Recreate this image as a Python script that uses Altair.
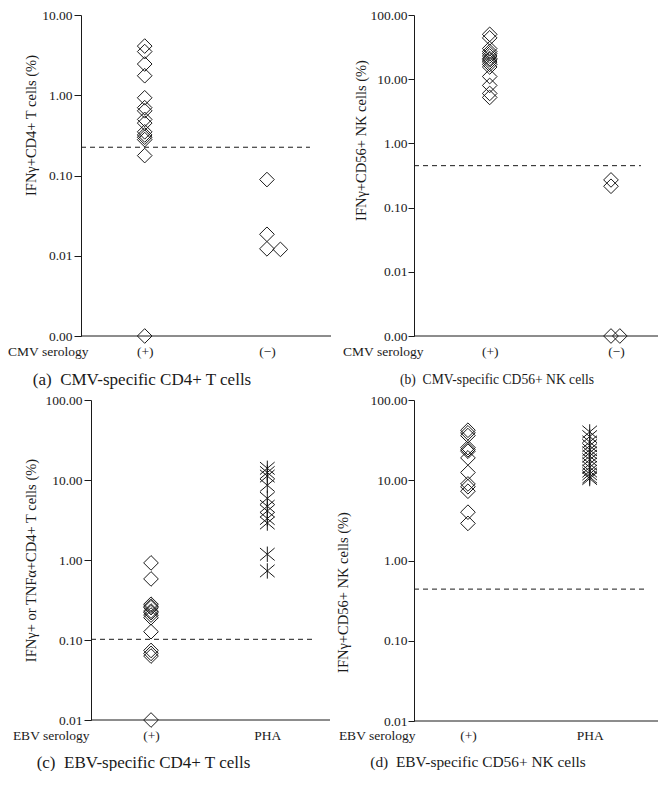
import altair as alt
import pandas as pd

FONT = "Liberation Serif"
INK = "#1a1a1a"

# ---------------- data ----------------
# (a) CMV-specific CD4+ T cells, IFNg+CD4+ T cells (%)
a_pos = [4.1, 3.5, 2.45, 1.75, 0.93, 0.7, 0.64, 0.5, 0.45, 0.35, 0.32, 0.3, 0.28, 0.177, 0.001]
a_neg = [0.089, 0.0185, 0.0122, 0.012]
a_neg_x = [2.0, 2.0, 2.0, 2.11]
a_cut = 0.225

# (b) CMV-specific CD56+ NK cells
b_pos = [50, 44, 30, 27, 25, 23, 21, 20, 18.5, 17, 15.5, 11, 8, 6, 5.2]
b_neg = [0.27, 0.215, 0.001, 0.001]
b_neg_x = [1.96, 1.96, 1.96, 2.03]
b_cut = 0.45

# (c) EBV-specific CD4+ T cells
c_pos = [0.92, 0.58, 0.28, 0.265, 0.254, 0.23, 0.22, 0.205, 0.19, 0.127, 0.074, 0.068, 0.063, 0.01]
c_pha = [14, 12.4, 11.2, 8.6, 5.9, 4.7, 4.1, 3.3, 2.9, 1.18, 0.73]
c_cut = 0.102

# (d) EBV-specific CD56+ NK cells
d_pos = [42, 39, 36, 25.5, 24, 23, 19, 12.5, 9, 8.3, 7.3, 4, 2.9]
d_pha = [40, 35, 30, 27, 24, 22, 20, 18, 16, 14.5, 13, 12, 11, 10.5]
d_cut = 0.44

STAR = "M-1,-0.85L1,0.85M-1,0.85L1,-0.85M0,-1.05L0,1.05"
NB = "\u00a0"


def panel(pos_vals, g2_vals, g2_x, g2_shape, g2_label, ydom, yvals, xdom, axis_x0, cut,
          cut_end, ytitle, ytx, yty, xtitle, xtx, caption, cap_dx, cap_off, cap_fs, w, h,
          tick=7, lpad=2, xlpad=15, yoff=0):
    pts1 = pd.DataFrame({"x": [1.0] * len(pos_vals), "v": pos_vals})
    pts2 = pd.DataFrame({"x": g2_x, "v": g2_vals})
    rule = pd.DataFrame({"x": [axis_x0], "x2": [cut_end], "v": [cut]})
    base = pd.DataFrame({"x": [axis_x0], "x2": [xdom[1]], "v": [ydom[0]]})

    X = alt.X("x:Q", scale=alt.Scale(domain=xdom, nice=False, zero=False),
              axis=alt.Axis(values=[1, 2], grid=False, ticks=False, tickSize=0, domain=False,
                            labelExpr="datum.value == 1 ? '(+)' : '" + g2_label + "'",
                            labelPadding=xlpad, labelBaseline="middle", labelFlush=False,
                            labelFont=FONT, labelFontSize=13.5, labelColor=INK,
                            title=xtitle, titleX=xtx, titleY=xlpad,
                            titleAlign="right", titleBaseline="middle", titleFont=FONT,
                            titleFontSize=13.5, titleFontWeight="normal", titleColor=INK))
    Y = alt.Y("v:Q", scale=alt.Scale(type="log", domain=ydom, nice=False),
              axis=alt.Axis(values=yvals, format=".2f", grid=False, tickSize=tick,
                            tickColor=INK, domainColor=INK, labelPadding=lpad, offset=yoff,
                            labelFont=FONT, labelFontSize=13.5, labelColor=INK,
                            title=ytitle, titleX=ytx, titleY=yty, titleAngle=270,
                            titleAlign="center", titleBaseline="middle", titleFont=FONT,
                            titleFontSize=14.5, titleFontWeight="normal", titleColor=INK))

    lb = alt.Chart(base).mark_rule(color=INK, strokeWidth=1).encode(x=X, x2="x2:Q", y=Y)
    lr = alt.Chart(rule).mark_rule(color=INK, strokeWidth=1, strokeDash=[5, 4]).encode(
        x=X, x2="x2:Q", y=Y)
    l1 = alt.Chart(pts1).mark_point(shape="diamond", filled=False, size=215, stroke=INK,
                                    strokeWidth=1, opacity=1).encode(x=X, y=Y)
    l2 = alt.Chart(pts2).mark_point(shape=g2_shape, filled=False, size=215, stroke=INK,
                                    strokeWidth=1, opacity=1).encode(x=X, y=Y)
    return alt.layer(lb, lr, l1, l2).properties(
        width=w, height=h,
        title=alt.TitleParams(caption, orient="bottom", anchor="middle", frame="group",
                              dx=cap_dx, offset=cap_off, font=FONT, fontSize=cap_fs,
                              fontWeight="normal", color=INK))


pa = panel(a_pos, a_neg, a_neg_x, "diamond", "(−)", [0.001, 10], [0.001, 0.01, 0.1, 1, 10],
           [0.479, 2.524], 0.479, a_cut, 2.352, "IFNγ+CD4+ T cells (%)", -50, 110,
           "CMV serology", 7, "(a)" + NB + NB + "CMV-specific CD4+ T cells", -64, 14, 17,
           250, 321)
pb = panel(b_pos, b_neg, b_neg_x, "diamond", "(−)", [0.001, 100],
           [0.001, 0.01, 0.1, 1, 10, 100], [0.401, 2.332], 0.401, b_cut, 2.197,
           "IFNγ+CD56+ NK cells (%)", -53, 125, "CMV serology", 9,
           "(b)" + NB + NB + "CMV-specific CD56+ NK cells", -39, 15, 13.6, 244, 321,
           tick=6, lpad=1)
pc = panel(c_pos, c_pha, [2.0] * len(c_pha), STAR, "PHA", [0.01, 100],
           [0.01, 0.1, 1, 10, 100], [0.398, 2.539], 0.484, c_cut, 2.393,
           "IFNγ+ or TNFα+CD4+ T cells (%)", -60, 160, "EBV serology", 8,
           "(c)" + NB + NB + "EBV-specific CD4+ T cells", -62, 13, 17, 249, 320,
           xlpad=15, yoff=-10)
pd_ = panel(d_pos, d_pha, [2.0] * len(d_pha), STAR, "PHA", [0.01, 100],
            [0.01, 0.1, 1, 10, 100], [0.557, 2.561], 0.557, d_cut, 2.452,
            "IFNγ+CD56+ NK cells (%)", -71, 192, "EBV serology", 1,
            "(d)" + NB + NB + "EBV-specific CD56+ NK cells", -58, 13, 15.4, 244, 321,
            tick=6, lpad=1, xlpad=14)

chart = alt.concat(pa, pb, pc, pd_, columns=2, bounds="flush",
                   spacing={"row": 64, "column": 83}).properties(
    padding={"left": -1, "top": 0, "right": 0, "bottom": 0},
    background="white",
).configure_view(stroke=None)

chart.save("out.html", embed_options={"renderer": "svg", "actions": False})
